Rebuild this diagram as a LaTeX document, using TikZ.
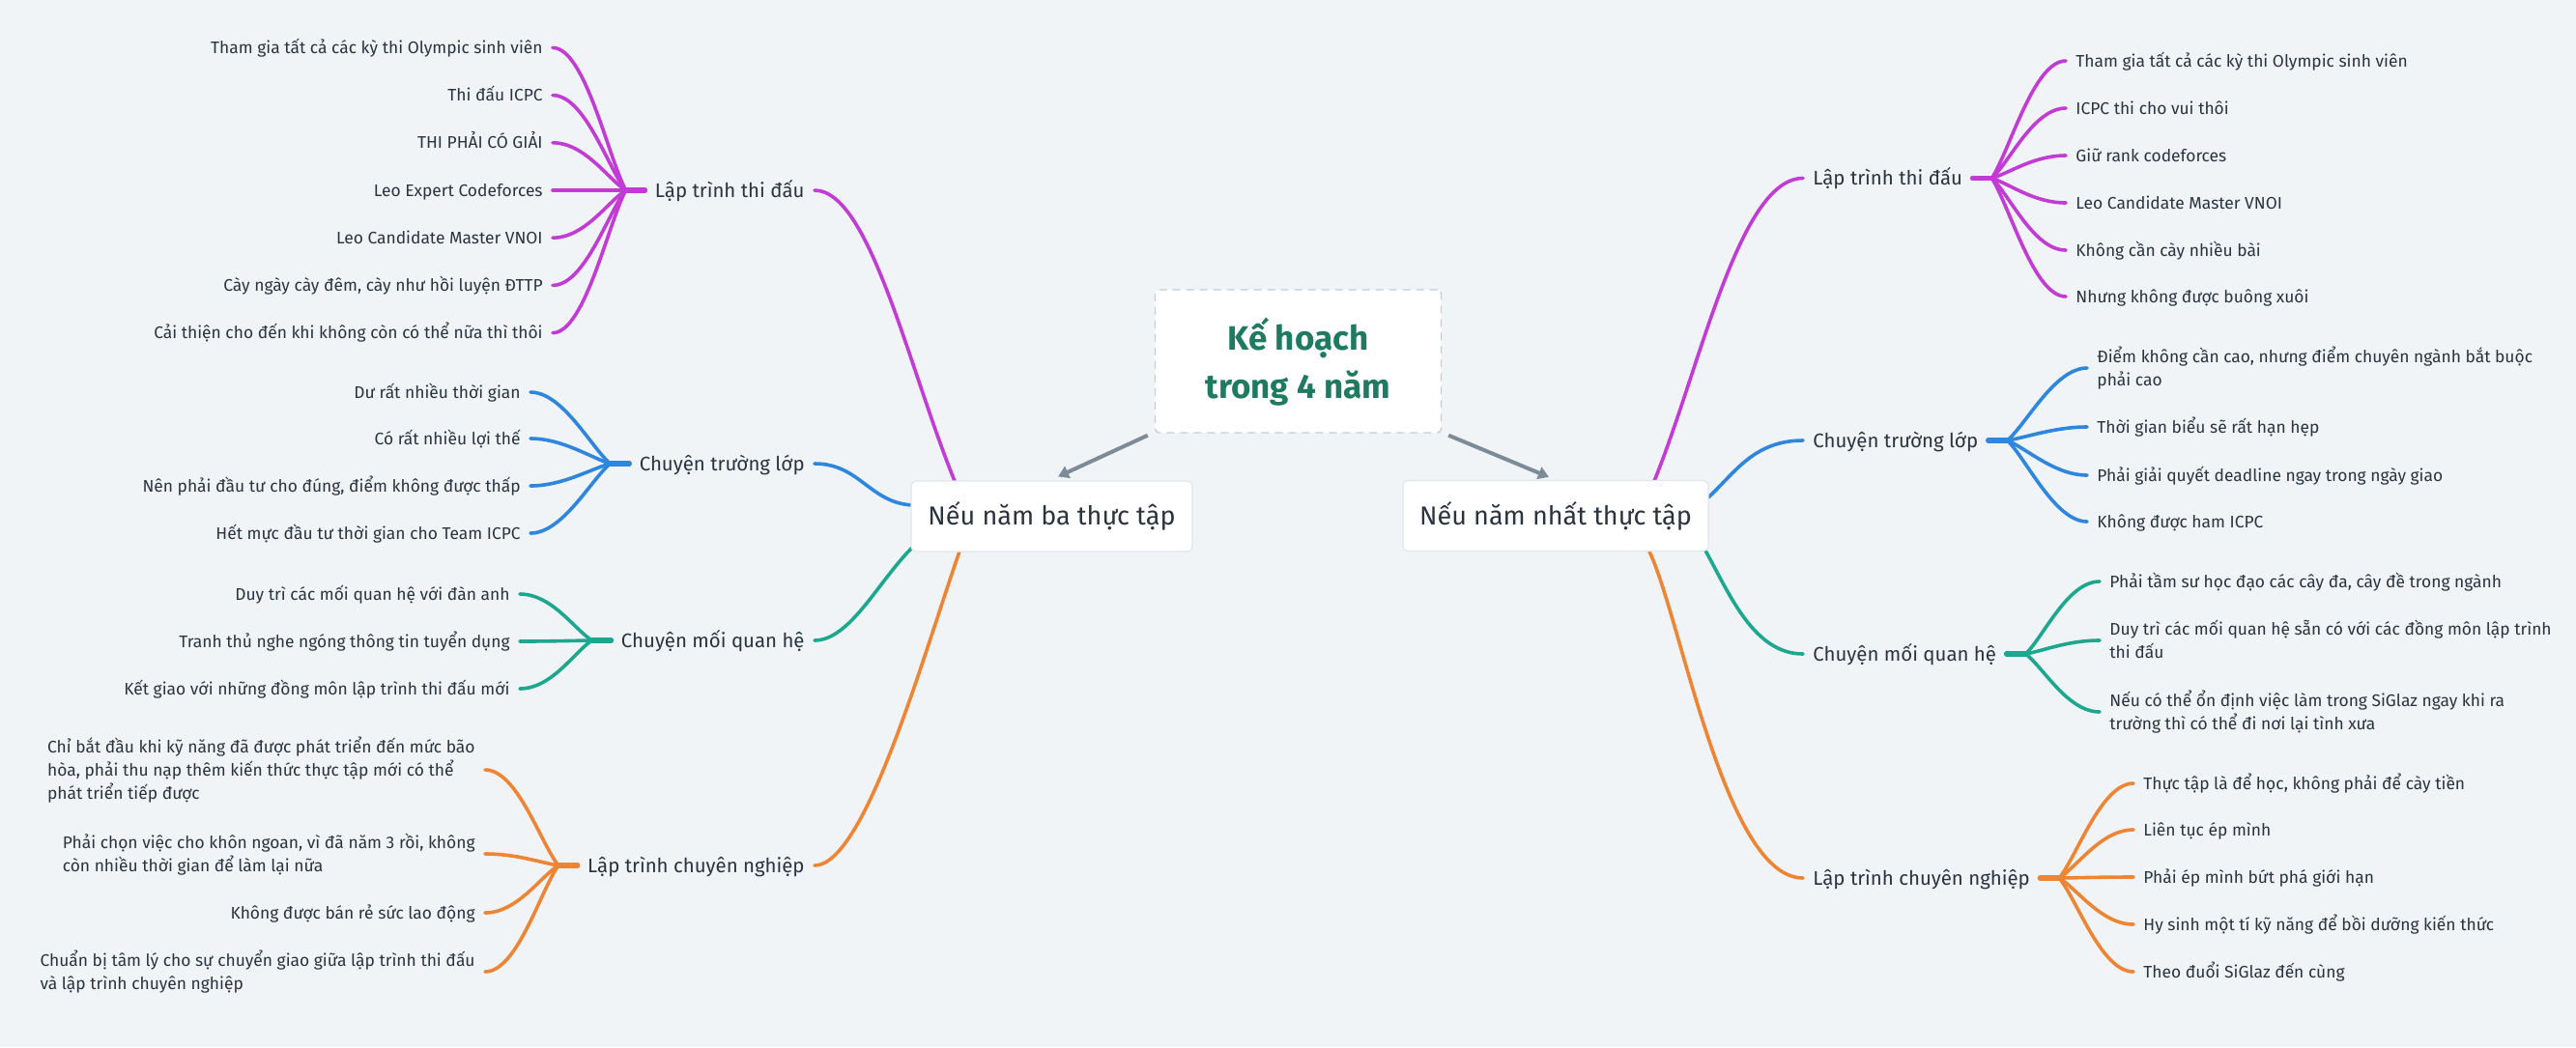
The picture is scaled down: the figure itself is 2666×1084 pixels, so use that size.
\documentclass[tikz,border=0pt]{standalone}
\usepackage{fontspec}
\setmainfont{Fira Sans}
\usetikzlibrary{calc,arrows.meta}
\definecolor{bgc}{HTML}{F0F4F7}
\definecolor{txt}{HTML}{2A3441}
\definecolor{rootgreen}{HTML}{1F7A62}
\definecolor{dashc}{HTML}{C3CEDA}
\definecolor{boxline}{HTML}{E2E7EC}
\definecolor{arrowc}{HTML}{7D8B99}
\definecolor{cpur}{HTML}{C23BD4}
\definecolor{cblu}{HTML}{2E86DE}
\definecolor{ctea}{HTML}{1CA88F}
\definecolor{cora}{HTML}{EE8535}
\newcommand\lst{\rule[-3pt]{0pt}{12pt}}
\newcommand\rst{\rule[-6pt]{0pt}{25pt}}
\newcommand\nolsk{\lineskiplimit-20pt\relax}
\newcommand\leaffont{\fontsize{8.7}{12}\selectfont\nolsk}
\newcommand\rootfont{\bfseries\fontsize{17.5}{25}\selectfont\nolsk}
\pgfdeclarelayer{bg}
\pgfsetlayers{bg,main}
\begin{document}
\begin{tikzpicture}[x=0.5pt,y=-0.5pt,
  rootbox/.style={fill=white, draw=dashc, dash pattern=on 4pt off 3pt, line width=0.7pt,
    rounded corners=2pt, minimum width=148pt, minimum height=74pt, align=center,
    font=\rootfont, text=rootgreen, inner sep=0pt},
  lonebox/.style={fill=white, draw=boxline, line width=0.6pt, rounded corners=2.5pt,
    minimum height=36.5pt, text height=9.3pt, text depth=0pt,
    font=\fontsize{13.5}{16}\selectfont, text=txt, inner sep=0pt},
  ltwo/.style={inner xsep=5pt, inner ysep=0pt, text height=7.1pt, text depth=0pt,
    font=\fontsize{10.2}{13}\selectfont, text=txt},
  leafl/.style={anchor=east, inner xsep=5pt, inner ysep=0pt, align=left, font=\leaffont, text=txt},
  leafr/.style={anchor=west, inner xsep=5pt, inner ysep=0pt, align=left, font=\leaffont, text=txt},
  conn/.style={line width=1.8pt, line cap=round},
  stub/.style={line width=2.6pt, line cap=round},
  curvel/.style={to path={.. controls +(33,0) and ($(\tikztotarget)!0.25!(\tikztostart)$) .. (\tikztotarget)}},
  curver/.style={to path={.. controls +(-33,0) and ($(\tikztotarget)!0.25!(\tikztostart)$) .. (\tikztotarget)}},
  arr/.style={draw=arrowc, line width=2pt, -{Triangle[length=5.5pt,width=6.5pt]}}
]
\useasboundingbox (0,0) rectangle (2666,1084);

% root and first level
\node[rootbox] (root) at (1343.5,374) {\rst Kế hoạch\\\rst trong 4 năm};
\node[lonebox, minimum width=145.5pt] (L) at (1088.5,534.5) {Nếu năm ba thực tập};
\node[lonebox, minimum width=158pt] (R) at (1610,534) {Nếu năm nhất thực tập};

% second level, left
\node[ltwo, anchor=east] (Lpur) at (843,197) {Lập trình thi đấu};
\node[ltwo, anchor=east] (Lblu) at (843,480) {Chuyện trường lớp};
\node[ltwo, anchor=east] (Ltea) at (843,663) {Chuyện mối quan hệ};
\node[ltwo, anchor=east] (Lora) at (843,896) {Lập trình chuyên nghiệp};
% second level, right
\node[ltwo, anchor=west] (Rpur) at (1866,184.5) {Lập trình thi đấu};
\node[ltwo, anchor=west] (Rblu) at (1866,456) {Chuyện trường lớp};
\node[ltwo, anchor=west] (Rtea) at (1866,677) {Chuyện mối quan hệ};
\node[ltwo, anchor=west] (Rora) at (1866,909) {Lập trình chuyên nghiệp};

% junctions
\coordinate (jlp) at ($(Lpur.west)+(-20,0)$);
\coordinate (jlb) at ($(Lblu.west)+(-20,0)$);
\coordinate (jlg) at ($(Ltea.west)+(-20,0)$);
\coordinate (jlo) at ($(Lora.west)+(-20,0)$);
\coordinate (jrp) at ($(Rpur.east)+(20,0)$);
\coordinate (jrb) at ($(Rblu.east)+(20,0)$);
\coordinate (jrg) at ($(Rtea.east)+(20,0)$);
\coordinate (jro) at ($(Rora.east)+(20,0)$);

% box contact points
\coordinate (bl1) at (988,498);
\coordinate (bl2) at (945,523);
\coordinate (bl3) at (945,566);
\coordinate (bl4) at (993,571);
\coordinate (br1) at (1712,498);
\coordinate (br2) at (1768,515);
\coordinate (br3) at (1765,570);
\coordinate (br4) at (1707,571);

% leaves left purple
\node[leafl] (lp1) at (572,49.4) {\lst Tham gia tất cả các kỳ thi Olympic sinh viên};
\node[leafl] (lp2) at (572,98.6) {\lst Thi đấu ICPC};
\node[leafl] (lp3) at (572,147.8) {\lst THI PHẢI CÓ GIẢI};
\node[leafl] (lp4) at (572,197) {\lst Leo Expert Codeforces};
\node[leafl] (lp5) at (572,246.2) {\lst Leo Candidate Master VNOI};
\node[leafl] (lp6) at (572,295.4) {\lst Cày ngày cày đêm, cày như hồi luyện ĐTTP};
\node[leafl] (lp7) at (572,344.6) {\lst Cải thiện cho đến khi không còn có thể nữa thì thôi};
% leaves left blue
\node[leafl] (lb1) at (549,406) {\lst Dư rất nhiều thời gian};
\node[leafl] (lb2) at (549,454) {\lst Có rất nhiều lợi thế};
\node[leafl] (lb3) at (549,503) {\lst Nên phải đầu tư cho đúng, điểm không được thấp};
\node[leafl] (lb4) at (549,552) {\lst Hết mực đầu tư thời gian cho Team ICPC};
% leaves left teal
\node[leafl] (lg1) at (538,615) {\lst Duy trì các mối quan hệ với đàn anh};
\node[leafl] (lg2) at (538,664) {\lst Tranh thủ nghe ngóng thông tin tuyển dụng};
\node[leafl] (lg3) at (538,713) {\lst Kết giao với những đồng môn lập trình thi đấu mới};
% leaves left orange
\node[leafl] (lo1) at (502,797) {\lst Chỉ bắt đầu khi kỹ năng đã được phát triển đến mức bão\\\lst hòa, phải thu nạp thêm kiến thức thực tập mới có thể\\\lst phát triển tiếp được};
\node[leafl] (lo2) at (502,884) {\lst Phải chọn việc cho khôn ngoan, vì đã năm 3 rồi, không\\\lst còn nhiều thời gian để làm lại nữa};
\node[leafl] (lo3) at (502,945) {\lst Không được bán rẻ sức lao động};
\node[leafl] (lo4) at (502,1006) {\lst Chuẩn bị tâm lý cho sự chuyển giao giữa lập trình thi đấu\\\lst và lập trình chuyên nghiệp};

% leaves right purple
\node[leafr] (rp1) at (2138,63) {\lst Tham gia tất cả các kỳ thi Olympic sinh viên};
\node[leafr] (rp2) at (2138,112) {\lst ICPC thi cho vui thôi};
\node[leafr] (rp3) at (2138,161) {\lst Giữ rank codeforces};
\node[leafr] (rp4) at (2138,210) {\lst Leo Candidate Master VNOI};
\node[leafr] (rp5) at (2138,259) {\lst Không cần cày nhiều bài};
\node[leafr] (rp6) at (2138,307) {\lst Nhưng không được buông xuôi};
% leaves right blue
\node[leafr] (rb1) at (2160,381) {\lst Điểm không cần cao, nhưng điểm chuyên ngành bắt buộc\\\lst phải cao};
\node[leafr] (rb2) at (2160,442) {\lst Thời gian biểu sẽ rất hạn hẹp};
\node[leafr] (rb3) at (2160,492) {\lst Phải giải quyết deadline ngay trong ngày giao};
\node[leafr] (rb4) at (2160,540) {\lst Không được ham ICPC};
% leaves right teal
\node[leafr] (rg1) at (2173,602) {\lst Phải tầm sư học đạo các cây đa, cây đề trong ngành};
\node[leafr] (rg2) at (2173,663) {\lst Duy trì các mối quan hệ sẵn có với các đồng môn lập trình\\\lst thi đấu};
\node[leafr] (rg3) at (2173,737) {\lst Nếu có thể ổn định việc làm trong SiGlaz ngay khi ra\\\lst trường thì có thể đi nơi lại tình xưa};
% leaves right orange
\node[leafr] (ro1) at (2208,811) {\lst Thực tập là để học, không phải để cày tiền};
\node[leafr] (ro2) at (2208,859) {\lst Liên tục ép mình};
\node[leafr] (ro3) at (2208,908) {\lst Phải ép mình bứt phá giới hạn};
\node[leafr] (ro4) at (2208,957) {\lst Hy sinh một tí kỹ năng để bồi dưỡng kiến thức};
\node[leafr] (ro5) at (2208,1006) {\lst Theo đuổi SiGlaz đến cùng};

% arrows from root
\draw[arr] ($(root.south west)+(-7,2)$) -- ($(L.north)+(6.5,-4)$);
\draw[arr] ($(root.south east)+(7,2)$) -- ($(R.north)+(-7,-3)$);

\begin{pgfonlayer}{bg}
\fill[bgc] (0,0) rectangle (2666,1084);
% first to second level, left
\draw[conn, cpur] (Lpur.east) .. controls (900,197) and (940,380) .. (bl1);
\draw[conn, cblu] (Lblu.east) .. controls (890,480) and (900,521) .. (bl2);
\draw[conn, ctea] (Ltea.east) .. controls (880,663) and (910,600) .. (bl3);
\draw[conn, cora] (Lora.east) .. controls (895,896) and (955,680) .. (bl4);
% first to second level, right
\draw[conn, cpur] (br1) .. controls (1760,380) and (1800,184.5) .. (Rpur.west);
\draw[conn, cblu] (br2) .. controls (1795,490) and (1815,456) .. (Rblu.west);
\draw[conn, ctea] (br3) .. controls (1790,615) and (1815,677) .. (Rtea.west);
\draw[conn, cora] (br4) .. controls (1740,640) and (1785,909) .. (Rora.west);
% stubs
\draw[stub, cpur] (jlp) -- (Lpur.west);
\draw[stub, cblu] (jlb) -- (Lblu.west);
\draw[stub, ctea] (jlg) -- (Ltea.west);
\draw[stub, cora] (jlo) -- (Lora.west);
\draw[stub, cpur] (jrp) -- (Rpur.east);
\draw[stub, cblu] (jrb) -- (Rblu.east);
\draw[stub, ctea] (jrg) -- (Rtea.east);
\draw[stub, cora] (jro) -- (Rora.east);
% leaves connectors
\foreach \i in {1,...,7} \draw[conn, cpur, curvel] (lp\i.east) to (jlp);
\foreach \i in {1,...,4} \draw[conn, cblu, curvel] (lb\i.east) to (jlb);
\foreach \i in {1,...,3} \draw[conn, ctea, curvel] (lg\i.east) to (jlg);
\foreach \i in {1,...,4} \draw[conn, cora, curvel] (lo\i.east) to (jlo);
\foreach \i in {1,...,6} \draw[conn, cpur, curver] (rp\i.west) to (jrp);
\foreach \i in {1,...,4} \draw[conn, cblu, curver] (rb\i.west) to (jrb);
\foreach \i in {1,...,3} \draw[conn, ctea, curver] (rg\i.west) to (jrg);
\foreach \i in {1,...,5} \draw[conn, cora, curver] (ro\i.west) to (jro);
\end{pgfonlayer}
\end{tikzpicture}
\end{document}
